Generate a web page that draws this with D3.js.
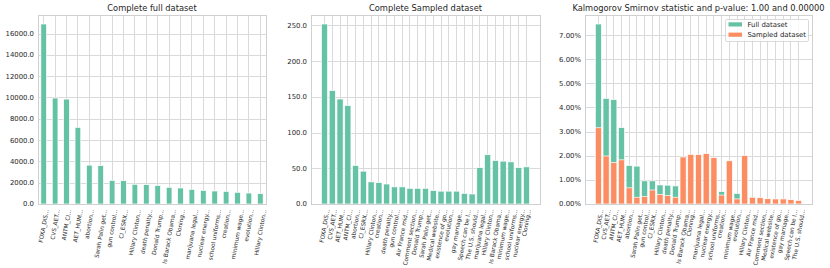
<!DOCTYPE html>
<meta charset="utf-8">
<style>
body { margin: 0; background: #fff; }
svg { font-family: "DejaVu Sans", sans-serif; }
.grid line { stroke: #dadada; stroke-width: 1px; shape-rendering: crispEdges; }
.grid path { display: none; }
.frame { fill: none; stroke: #d0d0d0; stroke-width: 1px; shape-rendering: crispEdges; }
.ytick { font-size: 6.9px; fill: #262626; }
.xl { font-size: 5.8px; fill: #262626; }
.title { font-size: 8.3px; fill: #262626; text-anchor: middle; }
.legend text { font-size: 6.9px; fill: #262626; }
</style>
<svg width="830" height="268"></svg>
<script src="https://d3js.org/d3.v7.min.js"></script>
<script>
var green = "#66c2a5",
    orange = "#fc8d62";

// panel 1: complete full dataset (counts)
var fullLabels = ["FOXA_DIS...", "CVS_AET...", "ANTM_CI...", "AET_HUM...", "abortion...",
  "Sarah Palin get...", "gun control...", "CI_ESRX...", "Hillary Clinton...", "death penalty...",
  "Donald Trump...", "Is Barack Obama...", "Cloning...", "marijuana legal...", "nuclear energy...",
  "school uniforms...", "creation...", "minimum wage...", "evolution...", "Hillary Clinton..."];
var fullCounts = [16900, 9950, 9850, 7200, 3650, 3600, 2220, 2190, 1850, 1820,
  1750, 1570, 1500, 1380, 1280, 1220, 1190, 1100, 1030, 970];

// panel 2: complete sampled dataset (counts)
var sampledLabels = ["FOXA_DIS...", "CVS_AET...", "AET_HUM...", "ANTM_CI...", "abortion...",
  "CI_ESRX...", "Hillary Clinton...", "creation...", "death penalty...", "gun control...",
  "Air France mid...", "Comment section...", "Donald Trump...", "Sarah Palin get...", "Medical website...",
  "existence of go...", "evolution...", "gay marriage...", "Speech can be l...", "The U.S. should...",
  "marijuana legal...", "Hillary Clinton...", "Is Barack Obama...", "minimum wage...", "school uniforms...",
  "nuclear energy...", "Cloning..."];
var sampledCounts = [252, 159, 147, 138, 54, 46, 31, 30, 28, 24, 24, 22, 22, 22, 19,
  18, 18, 18, 15, 14, 51, 69, 61, 60, 59, 51, 52];

// panel 3: share of each category (%)
var ksLabels = ["FOXA_DIS...", "CVS_AET...", "ANTM_CI...", "AET_HUM...", "abortion...",
  "Sarah Palin get...", "gun control...", "CI_ESRX...", "Hillary Clinton...", "death penalty...",
  "Donald Trump...", "Is Barack Obama...", "Cloning...", "marijuana legal...", "nuclear energy...",
  "school uniforms...", "creation...", "minimum wage...", "evolution...", "Hillary Clinton...",
  "Air France mid...", "Comment section...", "Medical website...", "existence of go...", "gay marriage...",
  "Speech can be l...", "The U.S. should..."];
var ksFull = [7.46, 4.38, 4.33, 3.17, 1.60, 1.57, 0.96, 0.96, 0.79, 0.78,
  0.75, 0.69, 0.66, 0.61, 0.56, 0.54, 0.52, 0.48, 0.44, 0.43,
  0, 0, 0, 0, 0, 0, 0];
var ksSampled = [3.16, 1.99, 1.72, 1.83, 0.67, 0.28, 0.31, 0.58, 0.40, 0.35,
  0.28, 1.95, 2.06, 2.05, 2.09, 1.92, 0.37, 1.79, 0.21, 2.01,
  0.28, 0.26, 0.22, 0.21, 0.21, 0.18, 0.15];

var svg = d3.select("svg"),
    plotTop = 15,
    plotBottom = 204,
    cos80 = Math.cos(80 * Math.PI / 180);

function panel(opts) {
  var g = svg.append("g");
  var n = opts.labels.length;

  var x = d3.scaleBand()
      .domain(d3.range(n))
      .range([opts.left, opts.right])
      .paddingInner(opts.padIn)
      .paddingOuter(opts.padOut);

  var y = d3.scaleLinear()
      .domain([0, opts.ymax])
      .range([plotBottom, plotTop]);

  // horizontal grid
  g.append("g")
      .attr("class", "grid")
      .attr("transform", "translate(" + opts.left + ",0)")
      .call(d3.axisLeft(y).tickValues(opts.ticks).tickSize(-(opts.right - opts.left)).tickFormat(""));

  // vertical grid at each category
  g.append("g")
      .attr("class", "grid")
      .attr("transform", "translate(0," + plotBottom + ")")
      .call(d3.axisBottom(x).tickSize(-(plotBottom - plotTop)).tickFormat(""));

  g.selectAll(".ytick")
    .data(opts.ticks)
    .enter().append("text")
      .attr("class", "ytick")
      .attr("x", opts.left - 4)
      .attr("y", function(d) { return y(d); })
      .attr("dy", "0.35em")
      .attr("text-anchor", "end")
      .text(opts.fmt);

  opts.series.forEach(function(s) {
    g.append("g").selectAll("rect")
      .data(s.values.map(function(v, i) { return {i: i, v: v}; }).filter(function(d) { return d.v > 0; }))
      .enter().append("rect")
        .attr("x", function(d) { return x(d.i); })
        .attr("y", function(d) { return y(d.v); })
        .attr("width", x.bandwidth())
        .attr("height", function(d) { return plotBottom - y(d.v); })
        .attr("fill", s.color)
        .attr("stroke", "#fff")
        .attr("stroke-width", 0.7);
  });

  g.append("rect")
      .attr("class", "frame")
      .attr("x", opts.left + 0.5)
      .attr("y", plotTop + 0.5)
      .attr("width", opts.right - opts.left)
      .attr("height", plotBottom - plotTop);

  g.selectAll(".xl")
    .data(opts.labels)
    .enter().append("text")
      .attr("class", "xl")
      .attr("text-anchor", "end")
      .attr("dy", "0.35em")
      .text(function(d) { return d; })
      .attr("transform", function(d, i) {
        var len = this.getComputedTextLength();
        var cx = x(i) + x.bandwidth() / 2 + len * cos80 / 2;
        return "translate(" + cx + "," + (plotBottom + 5.5) + ") rotate(-80)";
      });

  g.append("text")
      .attr("class", "title")
      .attr("x", (opts.left + opts.right) / 2)
      .attr("y", 10.5)
      .text(opts.title);

  return g;
}

panel({
  title: "Complete full dataset",
  labels: fullLabels,
  left: 38, right: 266,
  padIn: 0.5, padOut: 0.25,
  ymax: d3.max(fullCounts) * 1.05,
  ticks: d3.range(0, 16001, 2000),
  fmt: d3.format(".1f"),
  series: [{values: fullCounts, color: green}]
});

panel({
  title: "Complete Sampled dataset",
  labels: sampledLabels,
  left: 311, right: 540,
  padIn: 0.2, padOut: 1.34,
  ymax: d3.max(sampledCounts) * 1.05,
  ticks: d3.range(0, 251, 50),
  fmt: d3.format(".1f"),
  series: [{values: sampledCounts, color: green}]
});

var ks = panel({
  title: "Kalmogorov Smirnov statistic and p-value: 1.00 and 0.00000",
  labels: ksLabels,
  left: 585, right: 812,
  padIn: 0.2, padOut: 1.34,
  ymax: d3.max(ksFull) * 1.05,
  ticks: d3.range(0, 7.01, 1),
  fmt: function(d) { return d.toFixed(2) + "%"; },
  series: [{values: ksFull, color: green}, {values: ksSampled, color: orange}]
});

var legend = ks.append("g").attr("class", "legend");
legend.append("rect")
    .attr("x", 725.5).attr("y", 19.5)
    .attr("width", 83).attr("height", 22)
    .attr("rx", 1.5)
    .attr("fill", "#fff").attr("fill-opacity", 0.8)
    .attr("stroke", "#d0d0d0").attr("stroke-width", 0.8);

[["Full dataset", green], ["Sampled dataset", orange]].forEach(function(e, i) {
  var cy = 24.3 + i * 10.3;
  legend.append("rect")
      .attr("x", 728.5).attr("y", cy - 2)
      .attr("width", 13.5).attr("height", 4.2)
      .attr("fill", e[1]);
  legend.append("text")
      .attr("x", 747.5).attr("y", cy)
      .attr("dy", "0.35em")
      .text(e[0]);
});
</script>
